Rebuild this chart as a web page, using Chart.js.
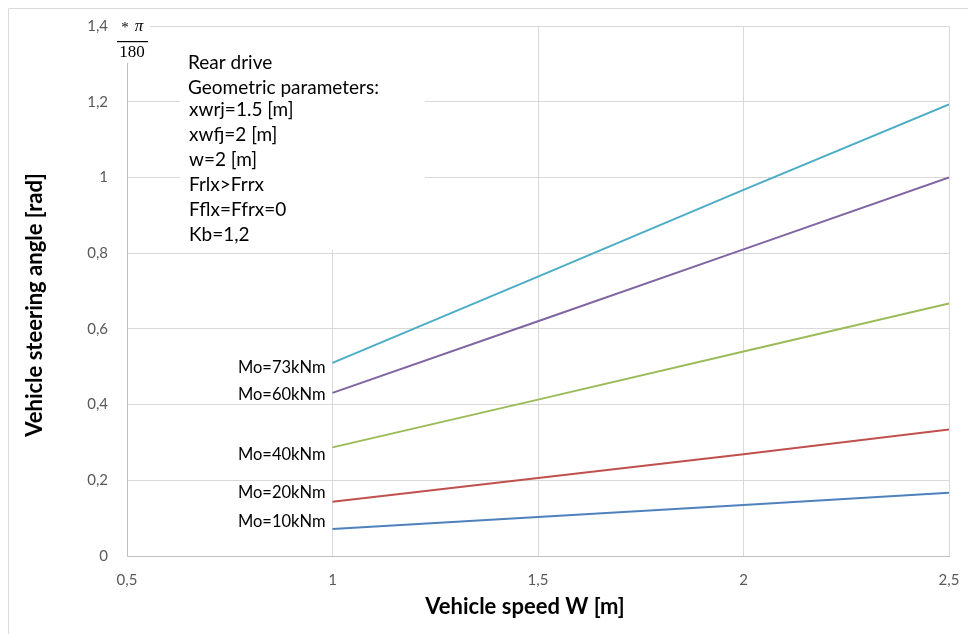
<!DOCTYPE html>
<html>
<head>
<meta charset="utf-8">
<script src="https://cdn.jsdelivr.net/npm/chart.js@4"></script>
<style>
  body { margin: 0; background: #fff; }
  #wrap { width: 968px; height: 634px; }
</style>
</head>
<body>
<div id="wrap"><canvas id="chart" width="968" height="634"></canvas></div>
<script>
// Données
const speeds = [1, 1.5, 2, 2.5];          // Vehicle speed W [m]
const mo10 = [0.071, 0.103, 0.135, 0.167];
const mo20 = [0.143, 0.206, 0.269, 0.334];
const mo40 = [0.287, 0.413, 0.540, 0.667];
const mo60 = [0.431, 0.620, 0.810, 1.000];
const mo73 = [0.510, 0.738, 0.967, 1.193];
const seriesLabels = ['Mo=10kNm', 'Mo=20kNm', 'Mo=40kNm', 'Mo=60kNm', 'Mo=73kNm'];
const seriesColors = ['#4F81BD', '#C0504D', '#9BBB59', '#8064A2', '#4BACC6'];
const xTicks = [0.5, 1, 1.5, 2, 2.5];
const yTicks = [0, 0.2, 0.4, 0.6, 0.8, 1, 1.2, 1.4];
const noteLines = ['Rear drive', 'Geometric parameters:', 'xwrj=1.5 [m]', 'xwfj=2 [m]',
  'w=2 [m]', 'Frlx>Frrx', 'Fflx=Ffrx=0', 'Kb=1,2'];

const allSeries = [mo10, mo20, mo40, mo60, mo73];
const fmt = v => String(Math.round(v * 10) / 10).replace('.', ',');

// Décalage vertical des étiquettes Mo par rapport au début de la courbe (px)
const labelShift = [-7, -9, 7, 2, 5];

const overlay = {
  id: 'overlay',
  afterDraw(chart) {
    const ctx = chart.ctx;
    const xs = chart.scales.x, ys = chart.scales.y;
    ctx.save();

    // cadre extérieur
    ctx.strokeStyle = '#d9d9d9';
    ctx.lineWidth = 1;
    ctx.beginPath();
    ctx.moveTo(8.5, 634); ctx.lineTo(8.5, 8.5); ctx.lineTo(968, 8.5);
    ctx.stroke();

    // boîte de texte
    ctx.fillStyle = '#fff';
    ctx.fillRect(180, 27, 245, 223);
    ctx.fillStyle = '#000';
    ctx.font = '19px Lato';
    ctx.textBaseline = 'middle';
    ctx.textAlign = 'left';
    const ly = [63, 88, 110, 135, 160, 185, 210, 235];
    noteLines.forEach((t, i) => ctx.fillText(t, i < 2 ? 188 : 189, ly[i]));

    // unité *π/180
    ctx.fillStyle = '#fff';
    ctx.fillRect(112, 14, 38, 49);
    ctx.fillStyle = '#000';
    ctx.textAlign = 'center';
    ctx.font = '15px "Liberation Serif"';
    ctx.fillText('*', 125, 28);
    ctx.font = 'italic 17px "Liberation Serif"';
    ctx.fillText('π', 139, 27);
    ctx.font = '17px "Liberation Serif"';
    ctx.fillText('180', 132, 53);
    ctx.fillRect(117, 41, 31, 1.2);

    // étiquettes des séries
    ctx.font = '16.5px Lato';
    ctx.textAlign = 'right';
    ctx.fillStyle = '#000';
    allSeries.forEach((s, i) => {
      const py = ys.getPixelForValue(s[0]) + labelShift[i];
      ctx.fillText(seriesLabels[i], xs.getPixelForValue(speeds[0]) - 7, py);
    });

    // titres des axes
    ctx.font = 'bold 22px Lato';
    ctx.textAlign = 'center';
    ctx.fillText('Vehicle speed W [m]', 525, 607);
    ctx.translate(35, 305);
    ctx.rotate(-Math.PI / 2);
    ctx.fillText('Vehicle steering angle [rad]', 0, 0);
    ctx.restore();
  }
};

new Chart(document.getElementById('chart'), {
  type: 'line',
  data: {
    datasets: allSeries.map((s, i) => ({
      label: seriesLabels[i],
      data: speeds.map((x, j) => ({ x: x, y: s[j] })),
      borderColor: seriesColors[i],
      borderWidth: 2,
      pointRadius: 0,
      fill: false
    }))
  },
  options: {
    responsive: false,
    animation: false,
    layout: { padding: { top: 26, right: 19, left: 0, bottom: 0 } },
    plugins: { legend: { display: false }, tooltip: { enabled: false } },
    scales: {
      x: {
        type: 'linear',
        min: xTicks[0],
        max: xTicks[xTicks.length - 1],
        afterFit: s => { s.height = 78; s.paddingRight = 0; s.paddingLeft = 0; },
        afterBuildTicks: s => { s.ticks = xTicks.map(v => ({ value: v })); },
        grid: { color: '#d9d9d9', drawTicks: false },
        border: { color: '#bfbfbf' },
        ticks: { callback: fmt, padding: 15, color: '#595959', font: { family: 'Lato', size: 15 }, maxRotation: 0 }
      },
      y: {
        min: yTicks[0],
        max: yTicks[yTicks.length - 1],
        afterFit: s => { s.width = 127; s.paddingTop = 0; s.paddingBottom = 0; },
        afterBuildTicks: s => { s.ticks = yTicks.map(v => ({ value: v })); },
        grid: { color: '#d9d9d9', drawTicks: false },
        border: { color: '#bfbfbf' },
        ticks: { callback: fmt, padding: 19, color: '#595959', font: { family: 'Lato', size: 15 } }
      }
    }
  },
  plugins: [overlay]
});
</script>
</body>
</html>
